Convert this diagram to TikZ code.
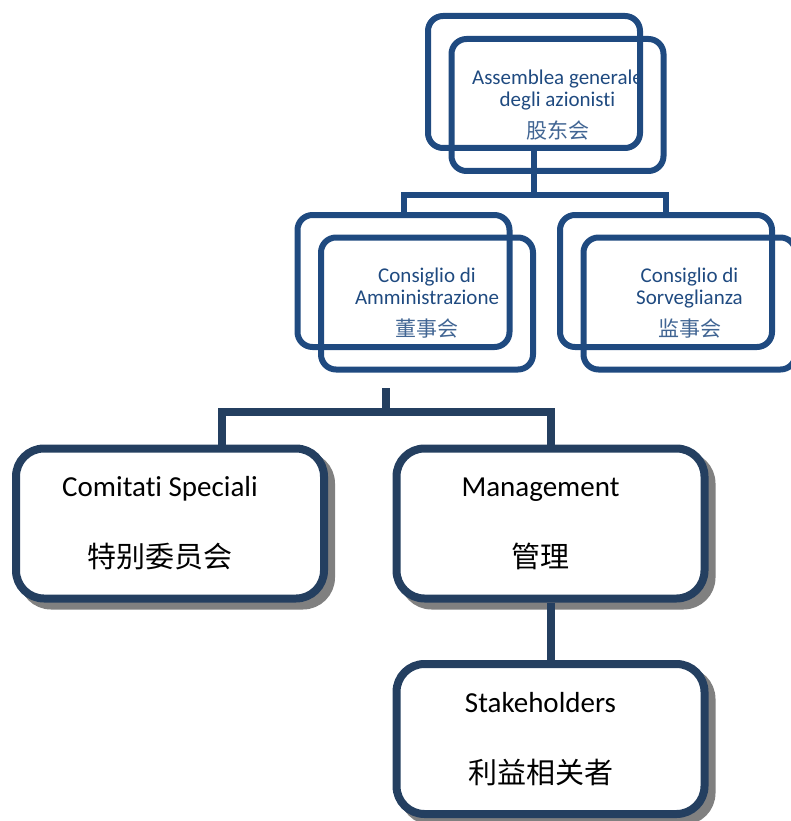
\documentclass[tikz,border=0pt]{standalone}
\usepackage{fontspec}
\setmainfont{Carlito}[Ligatures=NoCommon]
\newfontfamily\cjk{Noto Sans CJK SC}
\usepackage{tikz}
\usetikzlibrary{positioning,shadows,calc}
\definecolor{organblue}{HTML}{1F4A80}
\definecolor{unitnavy}{HTML}{243F60}
\definecolor{unitshadow}{HTML}{808080}
% text in the lower boxes sits a little left of centre
\newcommand{\lpad}{\hspace*{20pt}}

\begin{document}
\begin{tikzpicture}[x=1pt,y=-1pt]
        % Define styles
        \tikzstyle{organ} = [rectangle, rounded corners=15pt, minimum width=212pt, minimum height=132pt, draw=organblue, line width=6pt, text=organblue, font=\fontsize{21}{22}\selectfont, align=center]
        \tikzstyle{unit} = [rectangle, rounded corners=28pt, minimum width=308pt, minimum height=150pt, draw=unitnavy, line width=8pt, fill=white, drop shadow={shadow xshift=7pt, shadow yshift=-7pt, opacity=1, fill=unitshadow, draw=unitshadow, line width=8pt}, text=black, font=\fontsize{29}{34}\selectfont, align=center]
        \tikzstyle{link} = [draw=organblue, line width=6pt]
        \tikzstyle{trunk} = [draw=unitnavy, line width=8pt]

        \useasboundingbox (0,0) rectangle (790,821);

        % Shareholders
        \node (assemblyback) [organ] at (534,82) {};
        \node (assembly) [organ] at (557.5,105) {Assemblea generale\\degli azionisti\\[10pt]{\cjk\color{organblue!85} 股东会}};

        % Boards
        \node (boardback) [organ] at (403.5,281) {};
        \node (board) [organ] at (427,303.5) {Consiglio di\\Amministrazione\\[10pt]{\cjk\color{organblue!85} 董事会}};
        \node (supervisoryback) [organ] at (666,281) {};
        \node (supervisory) [organ] at (689.5,303.5) {Consiglio di\\Sorveglianza\\[10pt]{\cjk\color{organblue!85} 监事会}};

        % Operating units
        \node (committees) [unit] at (170,523.5) {Comitati Speciali\lpad\\[37pt]{\cjk 特别委员会}\lpad};
        \node (management) [unit] at (550.5,523.5) {Management\lpad\\[37pt]{\cjk 管理}\lpad};
        \node (stakeholders) [unit] at (550.5,739) {Stakeholders\lpad\\[37pt]{\cjk 利益相关者}\lpad};

        % Connections
        \draw[link] (assemblyback.south) -- ++(0,44) coordinate (topbar);
        \draw[link] (boardback.north) |- (topbar) -| (supervisoryback.north);
        \coordinate (fork) at (386,388);
        \draw[trunk] (fork) -- ++(0,24) coordinate (forkbar);
        \draw[trunk] ([xshift=52pt]committees.north) |- (forkbar) -| (management.north);
        \draw[trunk] (management.south) -- (stakeholders.north);

    \end{tikzpicture}
\end{document}
